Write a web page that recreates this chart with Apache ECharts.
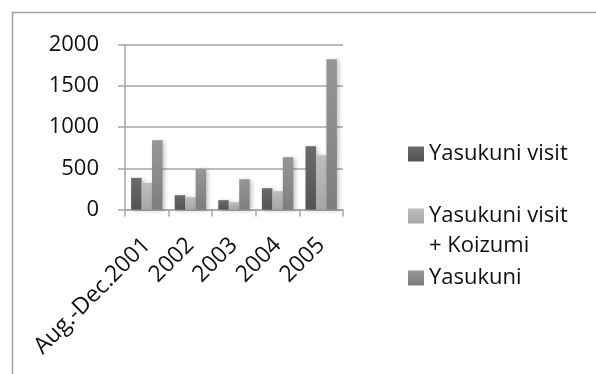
<!DOCTYPE html>
<html>
<head>
<meta charset="utf-8">
<script src="https://cdn.jsdelivr.net/npm/echarts@6/dist/echarts.min.js"></script>
<style>
  html, body { margin: 0; padding: 0; background: #fff; }
  #chart { width: 596px; height: 374px; }
</style>
</head>
<body>
<div id="chart"></div>
<script>
// Periods on the category axis
const periods = ['Aug.-Dec.2001', '2002', '2003', '2004', '2005'];
// Y-axis tick labels
const yTicks = [0, 500, 1000, 1500, 2000];
// Article counts per period
const yasukuniVisit = [383, 173, 113, 258, 767];
const yasukuniVisitKoizumi = [322, 149, 88, 222, 658];
const yasukuni = [840, 489, 367, 634, 1822];
// Series names
const seriesNames = ['Yasukuni visit', 'Yasukuni visit + Koizumi', 'Yasukuni'];

const FONT = '"Open Sans", sans-serif';
const AXIS_GREY = '#a6a6a6';

function shade(top, bottom) {
  return new echarts.graphic.LinearGradient(0, 0, 0, 1, [
    { offset: 0, color: top },
    { offset: 1, color: bottom }
  ]);
}

function barSeries(name, data, top, bottom) {
  return {
    name: name,
    type: 'bar',
    data: data,
    barGap: '0%',
    barCategoryGap: '28%',
    itemStyle: {
      color: shade(top, bottom),
      shadowBlur: 4,
      shadowOffsetX: 2,
      shadowOffsetY: 1,
      shadowColor: 'rgba(0,0,0,0.25)'
    }
  };
}

const legendText = {
  fontFamily: FONT,
  fontSize: 22,
  color: '#111',
  lineHeight: 30
};

function legendAt(name, top, extra) {
  return Object.assign({
    data: [name],
    orient: 'vertical',
    left: 408,
    top: top,
    padding: 0,
    icon: 'rect',
    itemWidth: 16,
    itemHeight: 15,
    selectedMode: false,
    textStyle: Object.assign({}, legendText)
  }, extra || {});
}

const chart = echarts.init(document.getElementById('chart'), null, { renderer: 'canvas' });

chart.setOption({
  animation: false,
  backgroundColor: '#fff',
  textStyle: { fontFamily: FONT },
  graphic: [{
    type: 'rect',
    shape: { x: 12.5, y: 12.5, width: 700, height: 500 },
    style: { fill: 'none', stroke: '#a0a0a0', lineWidth: 1.5 },
    silent: true
  }],
  grid: { left: 125, right: 253, top: 44.5, bottom: 164.5, containLabel: false },
  legend: [
    legendAt(seriesNames[0], 139),
    // Two-line entry: a blank first line keeps the marker beside the first text line
    legendAt(seriesNames[1], 171, {
      formatter: function () { return ' \nYasukuni visit\n+ Koizumi'; }
    }),
    legendAt(seriesNames[2], 263)
  ],
  xAxis: {
    type: 'category',
    data: periods,
    boundaryGap: true,
    axisLine: { show: true, lineStyle: { color: AXIS_GREY, width: 1.5 } },
    axisTick: { show: true, length: 7, alignWithLabel: false, lineStyle: { color: AXIS_GREY, width: 1.5 } },
    axisLabel: {
      rotate: 45,
      margin: 32,
      interval: 0,
      fontFamily: FONT,
      fontSize: 23,
      color: '#111'
    },
    splitLine: { show: false }
  },
  yAxis: {
    type: 'value',
    min: yTicks[0],
    max: yTicks[yTicks.length - 1],
    interval: yTicks[1] - yTicks[0],
    axisLine: { show: true, lineStyle: { color: AXIS_GREY, width: 1.5 } },
    axisTick: { show: true, length: 7, lineStyle: { color: AXIS_GREY, width: 1.5 } },
    axisLabel: {
      margin: 26,
      fontFamily: FONT,
      fontSize: 22,
      color: '#111',
      formatter: function (v) { return String(v); }
    },
    splitLine: { show: true, lineStyle: { color: AXIS_GREY, width: 1.5 } }
  },
  series: [
    barSeries(seriesNames[0], yasukuniVisit, '#6b6b6b', '#535353'),
    barSeries(seriesNames[1], yasukuniVisitKoizumi, '#bebebe', '#a6a6a6'),
    barSeries(seriesNames[2], yasukuni, '#969696', '#7e7e7e')
  ]
});
</script>
</body>
</html>
